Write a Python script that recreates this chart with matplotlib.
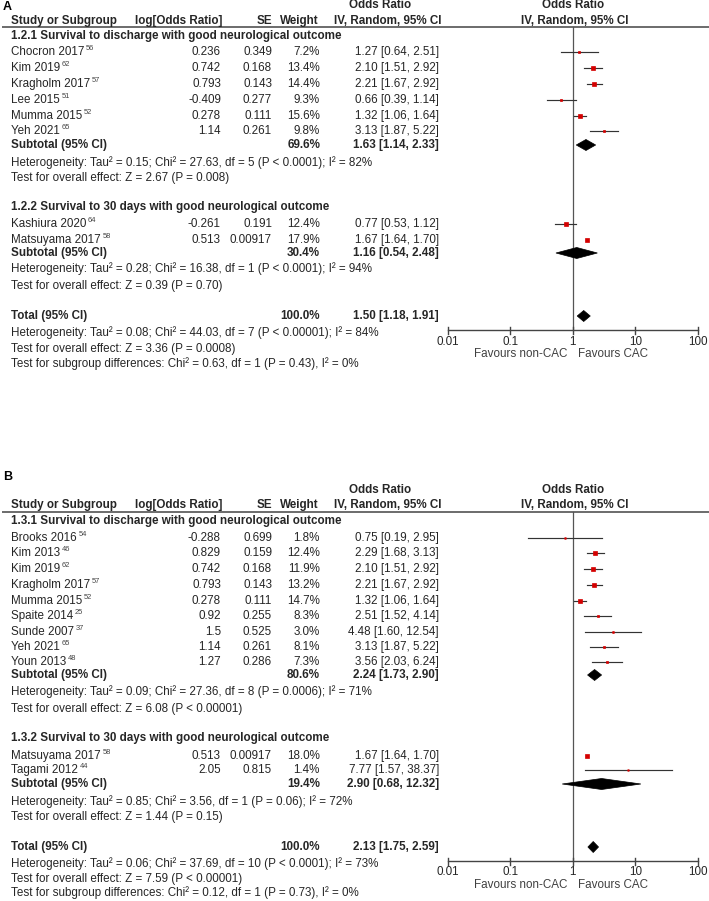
import matplotlib
matplotlib.use("Agg")
import matplotlib.pyplot as plt
from matplotlib.patches import Polygon
import numpy as np

plt.rcParams['font.family'] = ['Liberation Sans', 'DejaVu Sans']

# ---------------- data ----------------
# Panel A
a1_names = ["Chocron 2017", "Kim 2019", "Kragholm 2017", "Lee 2015", "Mumma 2015", "Yeh 2021"]
a1_refs = ["56", "62", "57", "51", "52", "65"]
a1_logor = [0.236, 0.742, 0.793, -0.409, 0.278, 1.14]
a1_se = [0.349, 0.168, 0.143, 0.277, 0.111, 0.261]
a1_w = [7.2, 13.4, 14.4, 9.3, 15.6, 9.8]
a1_or = [1.27, 2.10, 2.21, 0.66, 1.32, 3.13]
a1_lo = [0.64, 1.51, 1.67, 0.39, 1.06, 1.87]
a1_hi = [2.51, 2.92, 2.92, 1.14, 1.64, 5.22]
a1_sub = (69.6, 1.63, 1.14, 2.33)

a2_names = ["Kashiura 2020", "Matsuyama 2017"]
a2_refs = ["64", "58"]
a2_logor = [-0.261, 0.513]
a2_se = [0.191, 0.00917]
a2_w = [12.4, 17.9]
a2_or = [0.77, 1.67]
a2_lo = [0.53, 1.64]
a2_hi = [1.12, 1.70]
a2_sub = (30.4, 1.16, 0.54, 2.48)
a_total = (100.0, 1.50, 1.18, 1.91)

# Panel B
b1_names = ["Brooks 2016", "Kim 2013", "Kim 2019", "Kragholm 2017", "Mumma 2015",
            "Spaite 2014", "Sunde 2007", "Yeh 2021", "Youn 2013"]
b1_refs = ["54", "46", "62", "57", "52", "25", "37", "65", "48"]
b1_logor = [-0.288, 0.829, 0.742, 0.793, 0.278, 0.92, 1.5, 1.14, 1.27]
b1_se = [0.699, 0.159, 0.168, 0.143, 0.111, 0.255, 0.525, 0.261, 0.286]
b1_w = [1.8, 12.4, 11.9, 13.2, 14.7, 8.3, 3.0, 8.1, 7.3]
b1_or = [0.75, 2.29, 2.10, 2.21, 1.32, 2.51, 4.48, 3.13, 3.56]
b1_lo = [0.19, 1.68, 1.51, 1.67, 1.06, 1.52, 1.60, 1.87, 2.03]
b1_hi = [2.95, 3.13, 2.92, 2.92, 1.64, 4.14, 12.54, 5.22, 6.24]
b1_sub = (80.6, 2.24, 1.73, 2.90)

b2_names = ["Matsuyama 2017", "Tagami 2012"]
b2_refs = ["58", "44"]
b2_logor = [0.513, 2.05]
b2_se = [0.00917, 0.815]
b2_w = [18.0, 1.4]
b2_or = [1.67, 7.77]
b2_lo = [1.64, 1.57]
b2_hi = [1.70, 38.37]
b2_sub = (19.4, 2.90, 0.68, 12.32)
b_total = (100.0, 2.13, 1.75, 2.59)

a_titles = ["1.2.1 Survival to discharge with good neurological outcome",
            "1.2.2 Survival to 30 days with good neurological outcome"]
b_titles = ["1.3.1 Survival to discharge with good neurological outcome",
            "1.3.2 Survival to 30 days with good neurological outcome"]

a_g1_stats = ["Heterogeneity: Tau\u00b2 = 0.15; Chi\u00b2 = 27.63, df = 5 (P < 0.0001); I\u00b2 = 82%",
              "Test for overall effect: Z = 2.67 (P = 0.008)"]
a_g2_stats = ["Heterogeneity: Tau\u00b2 = 0.28; Chi\u00b2 = 16.38, df = 1 (P < 0.0001); I\u00b2 = 94%",
              "Test for overall effect: Z = 0.39 (P = 0.70)"]
a_tot_stats = ["Heterogeneity: Tau\u00b2 = 0.08; Chi\u00b2 = 44.03, df = 7 (P < 0.00001); I\u00b2 = 84%",
               "Test for overall effect: Z = 3.36 (P = 0.0008)",
               "Test for subgroup differences: Chi\u00b2 = 0.63, df = 1 (P = 0.43), I\u00b2 = 0%"]
b_g1_stats = ["Heterogeneity: Tau\u00b2 = 0.09; Chi\u00b2 = 27.36, df = 8 (P = 0.0006); I\u00b2 = 71%",
              "Test for overall effect: Z = 6.08 (P < 0.00001)"]
b_g2_stats = ["Heterogeneity: Tau\u00b2 = 0.85; Chi\u00b2 = 3.56, df = 1 (P = 0.06); I\u00b2 = 72%",
              "Test for overall effect: Z = 1.44 (P = 0.15)"]
b_tot_stats = ["Heterogeneity: Tau\u00b2 = 0.06; Chi\u00b2 = 37.69, df = 10 (P < 0.0001); I\u00b2 = 73%",
               "Test for overall effect: Z = 7.59 (P < 0.00001)",
               "Test for subgroup differences: Chi\u00b2 = 0.12, df = 1 (P = 0.73), I\u00b2 = 0%"]

xticks = [0.01, 0.1, 1, 10, 100]
xticklabels = ["0.01", "0.1", "1", "10", "100"]
fav_left = "Favours non-CAC"
fav_right = "Favours CAC"

# ---------------- figure ----------------
W, H = 709, 901
fig = plt.figure(figsize=(W / 100, H / 100), dpi=100)
ax = fig.add_axes([0, 0, 1, 1])
ax.set_xlim(0, W)
ax.set_ylim(H, 0)
ax.axis('off')

# forest axes: 0.01 -> 447.7 px, 100 -> 697.7 px, y in pixels
fx0, fx1 = 447.7, 697.7
fax = fig.add_axes([fx0 / W, 0, (fx1 - fx0) / W, 1])
fax.set_xscale('log')
fax.set_xlim(0.01, 100)
fax.set_ylim(H, 0)
fax.axis('off')

TC = '#262626'
FS = 8.35
SUPFS = 5.4
RED = '#d40000'
LC = '#333333'

X_NAME, X_LOG, X_SE, X_W, X_OR = 11, 221, 272, 320, 439


def txt(x, y, s, ha='left', bold=False, fs=FS, color=TC):
    return ax.text(x, y, s, ha=ha, va='center', fontsize=fs, color=color,
                   fontweight='bold' if bold else 'normal')


def fmt_ci(o, l, h):
    return f"{o:.2f} [{l:.2f}, {h:.2f}]"


def header(y1, y2, yrule, label, ylabel):
    ax.text(3, ylabel, label, ha='left', va='center', fontsize=9, fontweight='bold', color='black')
    txt(X_NAME, y2, "Study or Subgroup", bold=True)
    txt(222, y2, "log[Odds Ratio]", ha='right', bold=True)
    txt(X_SE, y2, "SE", ha='right', bold=True)
    txt(319, y2, "Weight", ha='right', bold=True)
    txt(380, y1, "Odds Ratio", ha='center', bold=True)
    txt(388, y2, "IV, Random, 95% CI", ha='center', bold=True)
    txt(573, y1, "Odds Ratio", ha='center', bold=True)
    txt(575, y2, "IV, Random, 95% CI", ha='center', bold=True)
    ax.plot([2, W], [yrule, yrule], color='#444444', lw=1.1, solid_capstyle='butt')


def study_rows(ys, names, refs, logor, se, w, o, lo, hi):
    for i, y in enumerate(ys):
        t = txt(X_NAME, y, names[i])
        ax.annotate(refs[i], xy=(1, 1), xycoords=t, xytext=(1.2, 1.0),
                    textcoords='offset points', ha='left', va='top',
                    fontsize=SUPFS, color='#444444')
        txt(X_LOG, y, f"{logor[i]:g}", ha='right')
        txt(X_SE, y, f"{se[i]:g}", ha='right')
        txt(X_W, y, f"{w[i]:.1f}%", ha='right')
        txt(X_OR, y, fmt_ci(o[i], lo[i], hi[i]), ha='right')
        fax.plot([lo[i], hi[i]], [y, y], color=LC, lw=0.85, clip_on=False, zorder=2)
        side_px = 1.2 + 0.17 * w[i]
        fax.plot([o[i]], [y], marker='s', ms=side_px * 0.72, mew=0.5, mec=RED, color=RED,
                 clip_on=False, zorder=3)


def diamond(y, est, lo, hi, half=5.5):
    pts = [(lo, y), (est, y - half), (hi, y), (est, y + half)]
    fax.add_patch(Polygon(pts, closed=True, facecolor='black', edgecolor='black',
                          lw=0.5, clip_on=False, zorder=4))


def summary_row(y, label, vals):
    w, o, l, h = vals
    txt(X_NAME, y, label, bold=True)
    txt(X_W, y, f"{w:.1f}%", ha='right', bold=True)
    txt(X_OR, y, fmt_ci(o, l, h), ha='right', bold=True)
    diamond(y, o, l, h)


def stats_rows(ys, lines):
    for y, s in zip(ys, lines):
        txt(X_NAME, y, s)


def axis_block(ytop, yaxis, ylab, yfav):
    fax.plot([1, 1], [ytop, yaxis], color='#555555', lw=0.9, clip_on=False, zorder=1)
    fax.plot([0.01, 100], [yaxis, yaxis], color='#444444', lw=1.0, clip_on=False)
    for xt, lab in zip(xticks, xticklabels):
        fax.plot([xt, xt], [yaxis - 3.5, yaxis + 3.5], color='#444444', lw=1.0, clip_on=False)
        fax.text(xt, ylab, lab, ha='center', va='center', fontsize=FS, color=TC, clip_on=False)
    fax.annotate(fav_left, xy=(1, yfav), xycoords='data', xytext=(-4, 0),
                 textcoords='offset points', ha='right', va='center', fontsize=FS, color='#404040')
    fax.annotate(fav_right, xy=(1, yfav), xycoords='data', xytext=(4, 0),
                 textcoords='offset points', ha='left', va='center', fontsize=FS, color='#404040')


# ---------------- Panel A ----------------
header(5, 21, 27, "A", 7)
txt(X_NAME, 36, a_titles[0], bold=True)
study_rows([52, 68, 84, 100, 116, 131], a1_names, a1_refs, a1_logor, a1_se, a1_w, a1_or, a1_lo, a1_hi)
summary_row(145, "Subtotal (95% CI)", a1_sub)
stats_rows([163, 178], a_g1_stats)
txt(X_NAME, 207, a_titles[1], bold=True)
study_rows([224, 240], a2_names, a2_refs, a2_logor, a2_se, a2_w, a2_or, a2_lo, a2_hi)
summary_row(253, "Subtotal (95% CI)", a2_sub)
stats_rows([269, 286], a_g2_stats)
summary_row(316, "Total (95% CI)", a_total)
stats_rows([333, 349, 364], a_tot_stats)
axis_block(27, 330, 342, 354)

# ---------------- Panel B ----------------
header(490, 505, 512, "B", 477)
txt(X_NAME, 521, b_titles[0], bold=True)
study_rows([538, 553, 569, 585, 601, 616, 632, 647, 662], b1_names, b1_refs, b1_logor, b1_se,
           b1_w, b1_or, b1_lo, b1_hi)
summary_row(675, "Subtotal (95% CI)", b1_sub)
stats_rows([692, 709], b_g1_stats)
txt(X_NAME, 738, b_titles[1], bold=True)
study_rows([756, 770], b2_names, b2_refs, b2_logor, b2_se, b2_w, b2_or, b2_lo, b2_hi)
summary_row(784, "Subtotal (95% CI)", b2_sub)
stats_rows([802, 817], b_g2_stats)
summary_row(847, "Total (95% CI)", b_total)
stats_rows([864, 879, 893], b_tot_stats)
axis_block(512, 861, 872, 885)

fig.savefig("out.png", dpi=100, facecolor='white')
